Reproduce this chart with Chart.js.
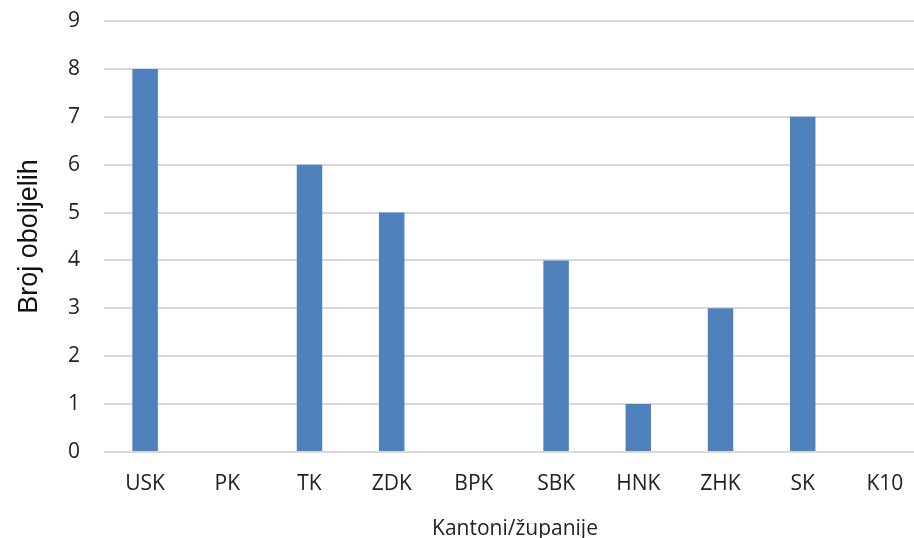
<!DOCTYPE html>
<html>
<head>
<meta charset="utf-8">
<script src="https://cdn.jsdelivr.net/npm/chart.js@4"></script>
<style>
  html, body { margin: 0; padding: 0; background: #fff; overflow: hidden; }
  #wrap { width: 928px; height: 545px; }
</style>
</head>
<body>
<div id="wrap"><canvas id="myChart"></canvas></div>
<script>
var kantoni = ['USK', 'PK', 'TK', 'ZDK', 'BPK', 'SBK', 'HNK', 'ZHK', 'SK', 'K10'];
var broj_oboljelih = [8, 0, 6, 5, 0, 4, 1, 3, 7, 0];
var y_max = 9;

const data = {
  labels: kantoni,
  datasets: [{
    label: 'Broj oboljelih',
    backgroundColor: '#4F81BD',
    data: broj_oboljelih,
    categoryPercentage: 1,
    barPercentage: 0.31
  }]
};

const config = {
  type: 'bar',
  data: data,
  options: {
    responsive: true,
    maintainAspectRatio: false,
    animation: false,
    layout: { padding: { top: 21, right: 2, left: 0, bottom: 0 } },
    plugins: {
      legend: { display: false },
      tooltip: { enabled: false }
    },
    scales: {
      x: {
        grid: { display: false, drawTicks: false },
        border: { display: false },
        ticks: { color: '#222', font: { family: 'Open Sans', size: 21 }, padding: 19, maxRotation: 0 },
        title: { display: true, text: 'Kantoni/županije', color: '#222', font: { family: 'Open Sans', size: 21 }, padding: { top: 10, bottom: 3 } },
        afterFit: function (scale) { scale.height = 93; }
      },
      y: {
        min: 0,
        max: y_max,
        grid: { color: '#D9D9D9', lineWidth: 2, drawTicks: false },
        border: { display: false },
        ticks: { stepSize: 1, color: '#222', font: { family: 'Open Sans', size: 21 }, padding: 24 },
        title: { display: true, text: 'Broj oboljelih', color: '#111', font: { family: 'Liberation Sans', size: 27 }, padding: { top: 13, bottom: 0 } },
        afterFit: function (scale) {
          // tick padding is also added above/below, drop it so the plot starts at 9
          scale.width = 104;
          scale.paddingTop = 0;
          scale.paddingBottom = 0;
        }
      }
    }
  }
};

var myChart = new Chart(document.getElementById('myChart'), config);
</script>
</body>
</html>
